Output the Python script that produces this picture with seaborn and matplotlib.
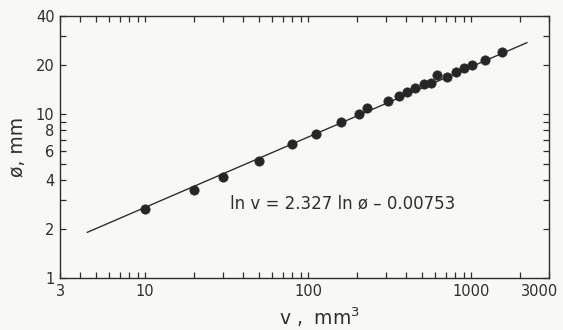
import numpy as np
import pandas as pd
import matplotlib
matplotlib.use('Agg')
import matplotlib.pyplot as plt
import matplotlib.transforms as mtrans
from matplotlib.ticker import LogLocator, FixedLocator, FixedFormatter, NullFormatter
import seaborn as sns

# measured points (volume v in mm^3, diameter phi in mm)
v_vals = [10, 20, 30, 50, 80, 112, 159, 206, 228, 310, 361, 406, 452,
          513, 565, 614, 713, 803, 907, 1015, 1219, 1544]
phi_vals = [2.63, 3.47, 4.13, 5.22, 6.60, 7.57, 8.96, 10.07, 10.9, 12.1, 12.98, 13.7, 14.5,
            15.3, 15.65, 17.4, 17.0, 18.3, 19.3, 20.1, 21.5, 24.1]

# fitted line ln v = 2.327 ln phi - 0.00753, end points
line_v = [4.4, 2200]
line_phi = [1.90, 27.5]

x_ticks = [3, 10, 100, 1000, 3000]
x_labels = ['3', '10', '100', '1000', '3000']
y_ticks = [1, 2, 4, 6, 8, 10, 20, 40]
y_labels = ['1', '2', '4', '6', '8', '10', '20', '40']

pts = pd.DataFrame({'v': v_vals, 'phi': phi_vals})
fit = pd.DataFrame({'v': line_v, 'phi': line_phi})

sns.set_style('ticks')
plt.rcParams['font.family'] = ['DejaVu Sans']
ink = '#2e2e2e'
bg = '#f8f9f7'

fig = plt.figure(figsize=(5.63, 3.30), dpi=100, facecolor=bg)
ax = fig.add_axes([0.1066, 0.1576, 0.8686, 0.7939])
ax.set_facecolor(bg)

sns.lineplot(data=fit, x='v', y='phi', color=ink, linewidth=1.0, ax=ax)
sns.scatterplot(data=pts, x='v', y='phi', color='#262626', s=45, edgecolor='#262626',
                linewidth=0.5, ax=ax, zorder=3)

ax.set_xscale('log')
ax.set_yscale('log')
ax.set_xlim(3, 3000)
ax.set_ylim(1, 40)

ax.xaxis.set_major_locator(FixedLocator(x_ticks))
ax.xaxis.set_major_formatter(FixedFormatter(x_labels))
ax.xaxis.set_minor_locator(LogLocator(base=10, subs=np.arange(2, 10)))
ax.xaxis.set_minor_formatter(NullFormatter())
ax.yaxis.set_major_locator(FixedLocator(y_ticks))
ax.yaxis.set_major_formatter(FixedFormatter(y_labels))
ax.yaxis.set_minor_locator(LogLocator(base=10, subs=np.arange(2, 10)))
ax.yaxis.set_minor_formatter(NullFormatter())

ax.tick_params(which='both', direction='in', top=True, right=True, color=ink,
               width=0.9, length=4, labelsize=10.5, labelcolor=ink, pad=4)
for s in ax.spines.values():
    s.set_color(ink)
    s.set_linewidth(1.0)

# last x label sits a bit left of its tick, like the reference
fig.canvas.draw()
last = ax.get_xticklabels()[-1]
last.set_transform(last.get_transform() + mtrans.ScaledTranslation(-9 / 100, 0, fig.dpi_scale_trans))

ax.set_xlabel('v ,  mm$^3$', fontsize=13.5, color=ink, labelpad=4)
ax.xaxis.set_label_coords(0.53, -0.105)
ax.set_ylabel('ø, mm', fontsize=13.5, color=ink, labelpad=6)

ax.text(0.348, 0.285, 'ln v = 2.327 ln ø \u2013 0.00753', transform=ax.transAxes,
        fontsize=12, color=ink, ha='left', va='center')

fig.savefig('out.png', dpi=100, facecolor=bg)
